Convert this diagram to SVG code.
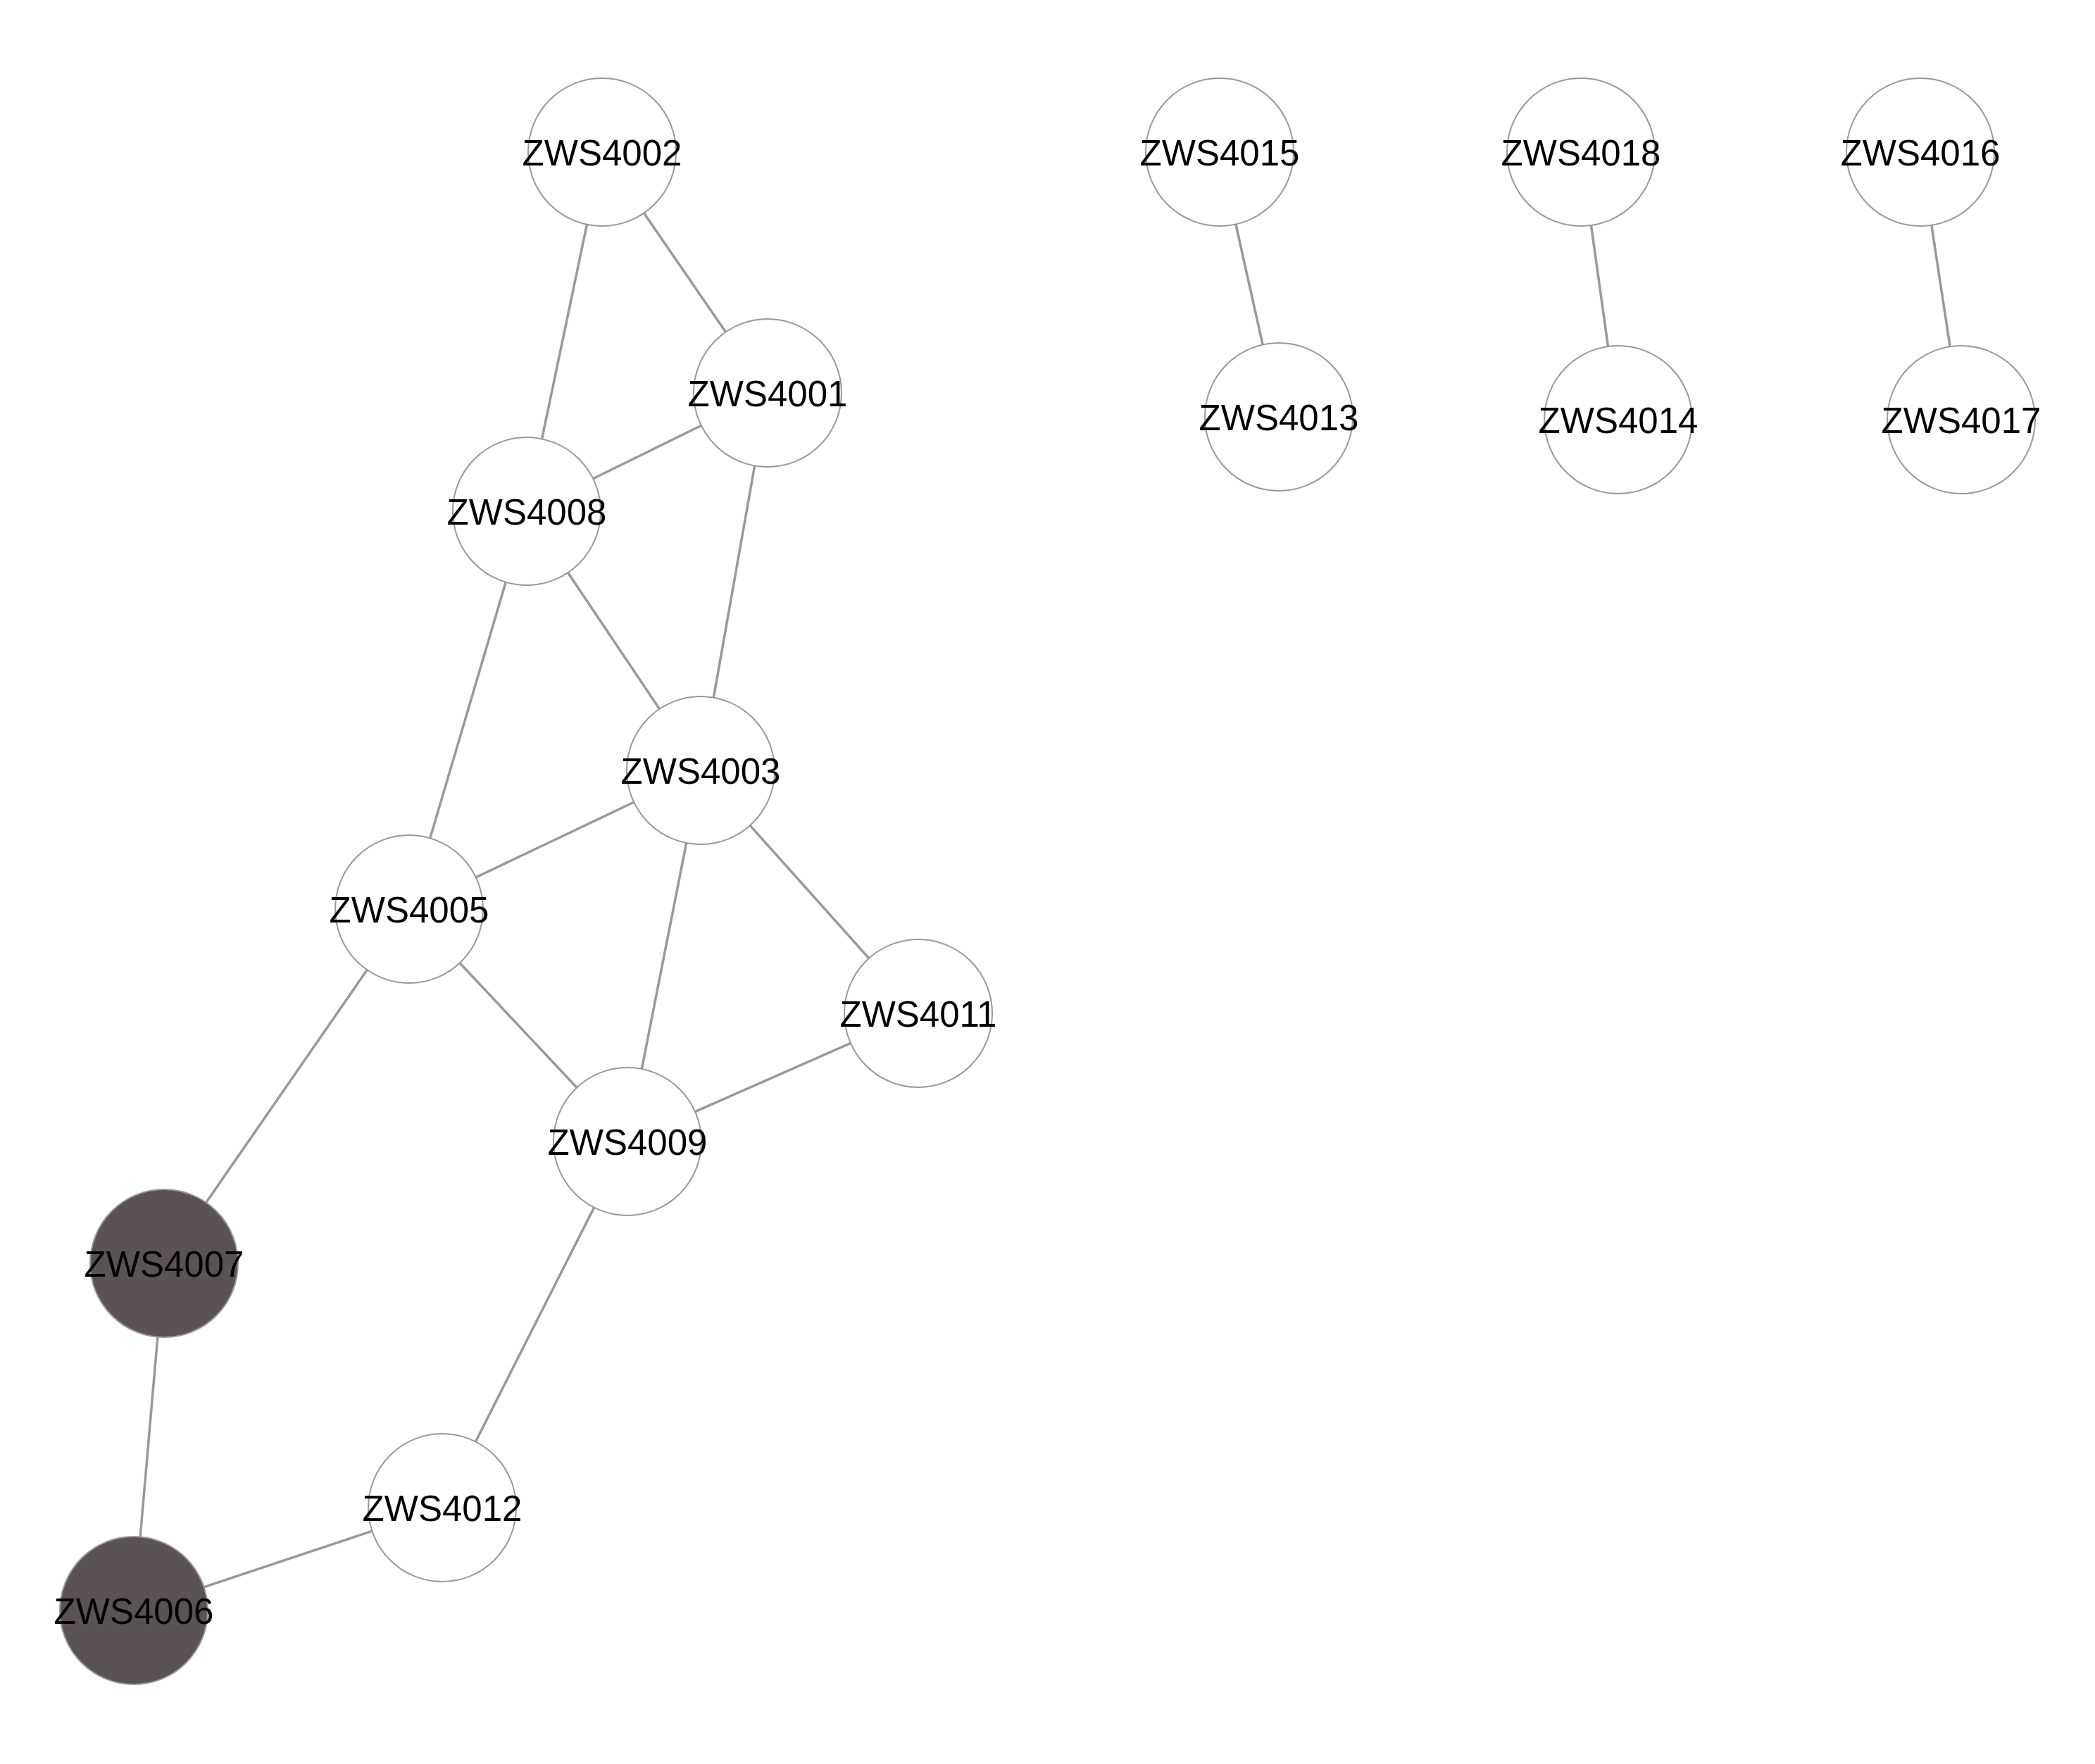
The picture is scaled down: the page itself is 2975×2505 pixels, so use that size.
<svg xmlns="http://www.w3.org/2000/svg" width="2975" height="2505" viewBox="0 0 2975 2505">
<style>
.e{stroke:#999999;stroke-width:3.5;fill:none}
.n{fill:#ffffff;stroke:#999999;stroke-width:2}
.d{fill:#5a5255;stroke:#999999;stroke-width:2}
.t{font-family:"Liberation Sans",Arial,sans-serif;font-size:51px;fill:#000000;text-anchor:middle}
</style>
<rect width="2975" height="2505" fill="#ffffff"/>
<g id="edges">
<line class="e" x1="855" y1="216" x2="1090" y2="558"/>
<line class="e" x1="855" y1="216" x2="748" y2="726"/>
<line class="e" x1="1090" y1="558" x2="748" y2="726"/>
<line class="e" x1="1090" y1="558" x2="995" y2="1094"/>
<line class="e" x1="748" y1="726" x2="995" y2="1094"/>
<line class="e" x1="748" y1="726" x2="581" y2="1291"/>
<line class="e" x1="995" y1="1094" x2="581" y2="1291"/>
<line class="e" x1="995" y1="1094" x2="891" y2="1621"/>
<line class="e" x1="995" y1="1094" x2="1304" y2="1439"/>
<line class="e" x1="581" y1="1291" x2="891" y2="1621"/>
<line class="e" x1="581" y1="1291" x2="233" y2="1794"/>
<line class="e" x1="1304" y1="1439" x2="891" y2="1621"/>
<line class="e" x1="891" y1="1621" x2="628" y2="2141"/>
<line class="e" x1="233" y1="1794" x2="190" y2="2287"/>
<line class="e" x1="190" y1="2287" x2="628" y2="2141"/>
<line class="e" x1="1732" y1="216" x2="1816" y2="592"/>
<line class="e" x1="2245" y1="216" x2="2298" y2="596"/>
<line class="e" x1="2727" y1="216" x2="2785" y2="596"/>
</g>
<g id="ZWS4002"><circle class="n" cx="855" cy="216" r="105"/><text class="t" x="855" y="235">ZWS4002</text></g>
<g id="ZWS4001"><circle class="n" cx="1090" cy="558" r="105"/><text class="t" x="1090" y="577">ZWS4001</text></g>
<g id="ZWS4008"><circle class="n" cx="748" cy="726" r="105"/><text class="t" x="748" y="745">ZWS4008</text></g>
<g id="ZWS4003"><circle class="n" cx="995" cy="1094" r="105"/><text class="t" x="995" y="1113">ZWS4003</text></g>
<g id="ZWS4005"><circle class="n" cx="581" cy="1291" r="105"/><text class="t" x="581" y="1310">ZWS4005</text></g>
<g id="ZWS4011"><circle class="n" cx="1304" cy="1439" r="105"/><text class="t" x="1304" y="1458">ZWS4011</text></g>
<g id="ZWS4009"><circle class="n" cx="891" cy="1621" r="105"/><text class="t" x="891" y="1640">ZWS4009</text></g>
<g id="ZWS4007"><circle class="d" cx="233" cy="1794" r="105"/><text class="t" x="233" y="1813">ZWS4007</text></g>
<g id="ZWS4012"><circle class="n" cx="628" cy="2141" r="105"/><text class="t" x="628" y="2160">ZWS4012</text></g>
<g id="ZWS4006"><circle class="d" cx="190" cy="2287" r="105"/><text class="t" x="190" y="2306">ZWS4006</text></g>
<g id="ZWS4015"><circle class="n" cx="1732" cy="216" r="105"/><text class="t" x="1732" y="235">ZWS4015</text></g>
<g id="ZWS4013"><circle class="n" cx="1816" cy="592" r="105"/><text class="t" x="1816" y="611">ZWS4013</text></g>
<g id="ZWS4018"><circle class="n" cx="2245" cy="216" r="105"/><text class="t" x="2245" y="235">ZWS4018</text></g>
<g id="ZWS4014"><circle class="n" cx="2298" cy="596" r="105"/><text class="t" x="2298" y="615">ZWS4014</text></g>
<g id="ZWS4016"><circle class="n" cx="2727" cy="216" r="105"/><text class="t" x="2727" y="235">ZWS4016</text></g>
<g id="ZWS4017"><circle class="n" cx="2785" cy="596" r="105"/><text class="t" x="2785" y="615">ZWS4017</text></g>
</svg>
